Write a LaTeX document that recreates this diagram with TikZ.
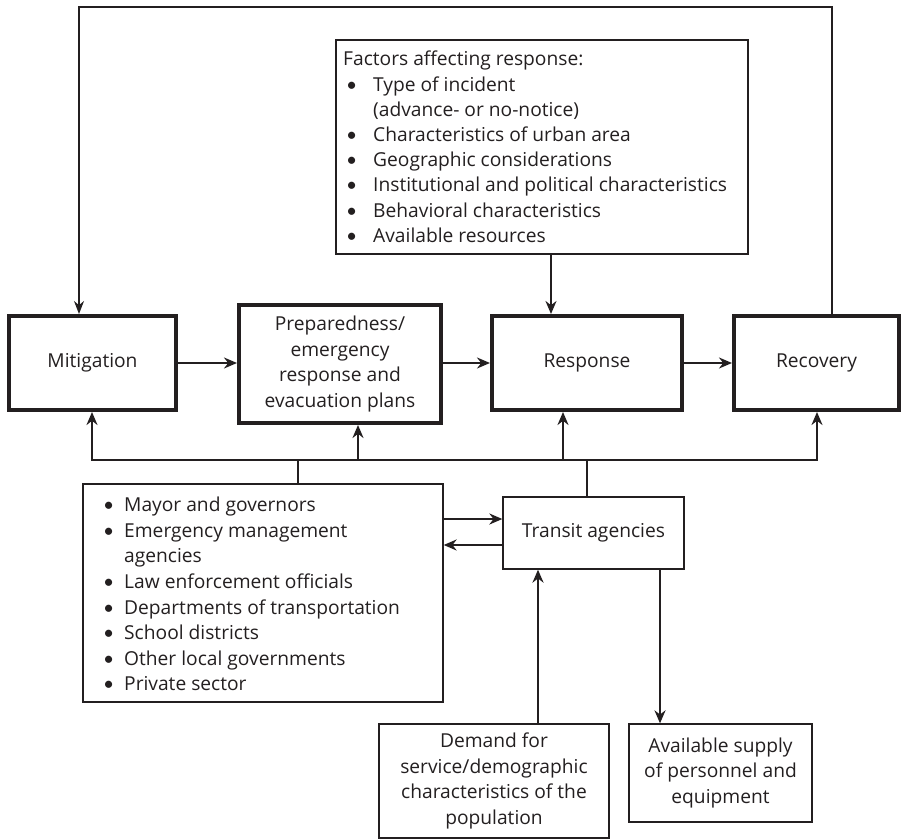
\documentclass[tikz,border=0pt]{standalone}
\usepackage{fontspec}
\setmainfont{Open Sans}
\newfontfamily\bulfont{Lato}
\newcommand{\mybul}{{\bulfont\textbullet}}
\usetikzlibrary{arrows.meta}
\definecolor{ink}{RGB}{35,31,32}
\begin{document}
\begin{tikzpicture}[x=1pt,y=-1pt,
  font=\fontsize{19.2}{25.6}\selectfont, color=ink,
  bigbox/.style={draw=ink, line width=4pt, inner sep=0pt, align=center},
  smallbox/.style={draw=ink, line width=1.3pt, inner sep=0pt, align=center},
  listtext/.style={anchor=north west, inner sep=0pt, align=left},
  arr/.style={line width=2.2pt, -{Stealth[length=13pt,width=11pt]}},
  ln/.style={line width=2.2pt},
  thinarr/.style={line width=1.3pt, -{Stealth[length=13pt,width=10pt]}}]
\useasboundingbox (0,0) rectangle (902,840);

% main phases
\node[bigbox, minimum width=167pt, minimum height=94pt] (mit) at (92.5,363) {Mitigation};
\node[bigbox, minimum width=202pt, minimum height=118pt] (prep) at (340,364) {Preparedness/\\emergency\\response and\\evacuation plans};
\node[bigbox, minimum width=190pt, minimum height=94pt] (resp) at (587,363) {Response};
\node[bigbox, minimum width=165pt, minimum height=94pt] (rec) at (816.5,363) {Recovery};

% factors box
\node[smallbox, minimum width=412pt, minimum height=214pt] (fac) at (542,147) {};
\node[listtext, font=\fontsize{19.2}{25.2}\selectfont] (factxt) at (343,51) {%
Factors affecting response:\\
\hspace*{3pt}\makebox[27pt][l]{\mybul}Type of incident\\
\hspace*{30pt}(advance- or no-notice)\\
\hspace*{3pt}\makebox[27pt][l]{\mybul}Characteristics of urban area\\
\hspace*{3pt}\makebox[27pt][l]{\mybul}Geographic considerations\\
\hspace*{3pt}\makebox[27pt][l]{\mybul}Institutional and political characteristics\\
\hspace*{3pt}\makebox[27pt][l]{\mybul}Behavioral characteristics\\
\hspace*{3pt}\makebox[27pt][l]{\mybul}Available resources};

% organisations box
\node[smallbox, minimum width=360pt, minimum height=218pt] (org) at (263,593) {};
\node[listtext] (orgtxt) at (103,497) {%
\makebox[21pt][l]{\mybul}Mayor and governors\\
\makebox[21pt][l]{\mybul}Emergency management\\
\hspace*{21pt}agencies\\
\makebox[21pt][l]{\mybul}Law enforcement officials\\
\makebox[21pt][l]{\mybul}Departments of transportation\\
\makebox[21pt][l]{\mybul}School districts\\
\makebox[21pt][l]{\mybul}Other local governments\\
\makebox[21pt][l]{\mybul}Private sector};

\node[smallbox, minimum width=181pt, minimum height=72pt] (tra) at (593.5,533) {Transit agencies};
\node[smallbox, minimum width=230pt, minimum height=114pt] (dem) at (494,781) {Demand for\\service/demographic\\characteristics of the\\population};
\node[smallbox, minimum width=183pt, minimum height=98pt] (sup) at (720.5,773) {Available supply\\of personnel and\\equipment};

% feedback loop
\coordinate (fbL) at (79,7);
\coordinate (fbR) at (832,7);
\draw[thinarr] (rec.north -| fbR) -- (fbR) -- (fbL) -- (mit.north -| fbL);

% factors -> response
\coordinate (fa) at (551,0);
\draw[arr] (fac.south -| fa) -- (resp.north -| fa);

% phase sequence
\draw[arr] (mit.east) -- (prep.west |- mit.east);
\draw[arr] (prep.east |- resp.west) -- (resp.west);
\draw[arr] (resp.east) -- (rec.west);

% bus
\coordinate (bL) at (92,460);
\coordinate (bR) at (817,460);
\coordinate (bP) at (358,460);
\coordinate (bS) at (563,460);
\coordinate (bO) at (298,460);
\coordinate (bT) at (587,460);
\draw[arr] (bP) -- (bL) -- (mit.south -| bL);
\draw[arr] (bP) -- (bR) -- (rec.south -| bR);
\draw[arr] (bP) -- (prep.south -| bP);
\draw[arr] (bS) -- (resp.south -| bS);
\draw[ln] (org.north -| bO) -- (bO);
\draw[ln] (tra.north -| bT) -- (bT);

% organisations <-> transit
\coordinate (h1) at (0,519);
\coordinate (h2) at (0,545);
\draw[arr] (org.east |- h1) -- (tra.west |- h1);
\draw[arr] (tra.west |- h2) -- (org.east |- h2);

% demand / supply
\coordinate (vd) at (538,0);
\coordinate (vs) at (660,0);
\draw[arr] (dem.north -| vd) -- (tra.south -| vd);
\draw[arr] (tra.south -| vs) -- (sup.north -| vs);
\end{tikzpicture}
\end{document}
